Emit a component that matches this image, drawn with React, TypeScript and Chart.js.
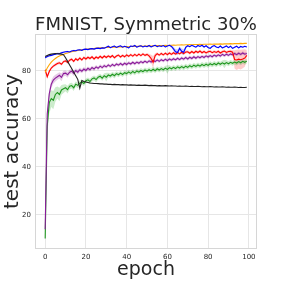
import { useEffect, useRef } from "react";
import { Chart, registerables } from "chart.js";
Chart.register(...registerables);

const epochs = Array.from({ length: 100 }, (_, i) => i);

const blueAcc = [
  85.5, 86.0, 86.3, 86.5, 86.8, 87.0, 87.3, 87.2, 87.6, 87.8,
  88.0, 88.1, 87.9, 88.3, 88.5, 88.4, 88.7, 88.8, 88.6, 89.0,
  89.1, 88.9, 89.2, 89.3, 89.1, 89.4, 89.5, 89.3, 89.6, 89.5,
  89.9, 90.3, 89.7, 90.1, 90.4, 89.8, 90.2, 90.5, 89.9, 90.3,
  90.0, 89.6, 90.4, 90.2, 90.6, 89.9, 90.3, 90.5, 90.0, 90.4,
  90.1, 90.6, 90.0, 90.4, 90.7, 90.1, 90.5, 90.2, 90.6, 90.0,
  90.4, 90.7, 90.2, 89.2, 88.0, 87.7, 89.4, 88.2, 87.8, 89.8,
  90.5, 90.1, 90.7, 90.3, 89.9, 90.6, 90.2, 90.7, 90.0, 90.5,
  89.8, 89.4, 90.2, 90.6, 90.0, 89.7, 90.4, 89.6, 90.0, 90.4,
  89.7, 90.3, 89.4, 89.9, 90.3, 89.6, 90.2, 89.9, 90.3, 90.0,
];
const blueStd = [
  0.4, 0.4, 0.4, 0.4, 0.4, 0.4, 0.4, 0.4, 0.4, 0.4,
  0.3, 0.3, 0.3, 0.3, 0.3, 0.3, 0.3, 0.3, 0.3, 0.3,
  0.3, 0.3, 0.3, 0.3, 0.3, 0.3, 0.3, 0.3, 0.3, 0.3,
  0.3, 0.3, 0.3, 0.3, 0.3, 0.3, 0.3, 0.3, 0.3, 0.3,
  0.3, 0.3, 0.3, 0.3, 0.3, 0.3, 0.3, 0.3, 0.3, 0.3,
  0.3, 0.3, 0.3, 0.3, 0.3, 0.3, 0.3, 0.3, 0.3, 0.3,
  0.3, 0.3, 0.5, 0.9, 1.2, 1.2, 0.8, 1.2, 1.2, 0.6,
  0.3, 0.3, 0.3, 0.3, 0.3, 0.3, 0.3, 0.3, 0.3, 0.3,
  0.3, 0.4, 0.3, 0.3, 0.3, 0.3, 0.3, 0.4, 0.3, 0.3,
  0.3, 0.3, 0.4, 0.3, 0.3, 0.3, 0.3, 0.3, 0.3, 0.3,
];
const orangeAcc = [
  79.5, 81.2, 82.6, 83.7, 84.5, 85.2, 85.8, 86.2, 86.6, 86.9,
  87.3, 87.5, 87.8, 88.0, 88.2, 88.3, 88.5, 88.7, 88.8, 88.9,
  89.0, 89.1, 89.2, 89.3, 89.3, 89.5, 89.5, 89.6, 89.7, 89.7,
  89.8, 89.8, 89.9, 89.9, 90.0, 89.9, 90.0, 90.1, 90.0, 90.1,
  90.2, 90.1, 90.2, 90.3, 90.2, 90.3, 90.3, 90.4, 90.3, 90.4,
  90.4, 90.5, 90.4, 90.5, 90.5, 90.6, 90.5, 90.6, 90.6, 90.7,
  90.6, 90.7, 90.7, 90.8, 90.7, 90.8, 90.8, 90.9, 90.8, 90.9,
  90.9, 91.0, 90.9, 91.0, 91.0, 91.0, 91.1, 91.0, 91.1, 91.1,
  91.1, 91.2, 91.1, 91.2, 91.2, 91.2, 91.3, 91.2, 91.3, 91.3,
  91.3, 91.4, 91.3, 91.4, 91.4, 91.4, 91.5, 91.4, 91.5, 91.5,
];
const redAcc = [
  80.5, 77.6, 79.8, 81.2, 82.0, 82.6, 83.1, 83.4, 82.8, 83.9,
  84.2, 83.5, 84.5, 84.9, 84.0, 85.1, 84.5, 85.4, 84.6, 85.6,
  85.0, 85.7, 85.2, 85.9, 85.0, 85.8, 85.3, 86.1, 85.4, 86.2,
  85.6, 86.3, 85.7, 86.4, 85.5, 86.2, 86.6, 85.8, 86.5, 85.9,
  86.7, 86.1, 86.8, 86.2, 86.9, 86.3, 87.0, 86.4, 87.1, 86.5,
  86.9, 86.3, 85.2, 83.6, 86.4, 87.2, 86.6, 87.3, 86.7, 87.4,
  86.8, 87.5, 86.9, 87.6, 87.0, 87.7, 87.1, 87.8, 87.2, 87.9,
  88.0, 87.4, 88.1, 87.5, 88.2, 87.7, 88.3, 87.6, 88.1, 87.5,
  88.0, 88.2, 87.6, 88.1, 87.7, 88.2, 87.5, 88.0, 88.3, 87.7,
  88.1, 88.2, 87.8, 84.8, 84.6, 84.9, 84.7, 85.0, 85.4, 86.5,
];
const redStd = [
  0.6, 0.8, 0.7, 0.6, 0.6, 0.6, 0.6, 0.6, 0.6, 0.6,
  0.6, 0.6, 0.6, 0.6, 0.6, 0.6, 0.6, 0.6, 0.6, 0.6,
  0.6, 0.6, 0.6, 0.6, 0.6, 0.6, 0.6, 0.6, 0.6, 0.6,
  0.6, 0.6, 0.6, 0.6, 0.6, 0.6, 0.6, 0.6, 0.6, 0.6,
  0.6, 0.6, 0.6, 0.6, 0.6, 0.6, 0.6, 0.6, 0.6, 0.6,
  0.6, 0.8, 1.6, 2.6, 1.0, 0.6, 0.6, 0.6, 0.6, 0.6,
  0.6, 0.6, 0.6, 0.6, 0.6, 0.6, 0.6, 0.6, 0.6, 0.6,
  0.6, 0.6, 0.6, 0.6, 0.6, 0.6, 0.6, 0.6, 0.6, 0.6,
  0.6, 0.6, 0.6, 0.6, 0.6, 0.6, 0.6, 0.6, 0.6, 0.6,
  0.6, 0.6, 0.8, 3.8, 4.2, 4.0, 4.1, 3.9, 3.6, 2.2,
];
const purpleAcc = [
  14.0, 62.0, 70.5, 74.5, 76.2, 77.0, 77.6, 78.2, 77.3, 78.9,
  79.1, 78.4, 79.5, 79.9, 79.0, 80.2, 79.5, 80.5, 79.9, 80.8,
  80.2, 81.1, 80.5, 81.4, 80.8, 81.7, 81.1, 82.0, 81.4, 82.2,
  81.7, 82.5, 81.9, 82.7, 82.1, 82.9, 82.4, 83.1, 82.5, 83.2,
  82.7, 83.4, 82.9, 83.6, 83.0, 83.7, 83.2, 83.9, 83.4, 84.1,
  83.5, 84.2, 83.7, 84.4, 83.9, 84.6, 84.0, 84.7, 84.2, 84.9,
  84.3, 85.0, 84.5, 85.1, 84.6, 85.3, 84.7, 85.4, 84.9, 85.6,
  85.0, 85.7, 85.2, 85.9, 85.3, 86.0, 85.5, 86.1, 85.6, 86.3,
  85.8, 86.4, 85.9, 86.6, 86.1, 86.7, 86.2, 86.9, 86.4, 87.0,
  86.5, 87.1, 86.7, 87.3, 86.8, 87.4, 86.9, 87.5, 87.0, 87.3,
];
const purpleStd = [
  1.0, 2.0, 1.8, 1.6, 1.5, 1.4, 1.3, 1.3, 1.6, 1.2,
  1.1, 1.2, 1.0, 1.0, 1.1, 0.9, 1.0, 0.9, 0.9, 0.8,
  0.8, 0.8, 0.8, 0.8, 0.8, 0.8, 0.8, 0.8, 0.8, 0.8,
  0.7, 0.7, 0.7, 0.7, 0.7, 0.7, 0.7, 0.7, 0.7, 0.7,
  0.7, 0.7, 0.7, 0.7, 0.7, 0.7, 0.7, 0.7, 0.7, 0.7,
  0.7, 0.7, 0.7, 0.7, 0.7, 0.7, 0.7, 0.7, 0.7, 0.7,
  0.7, 0.7, 0.7, 0.7, 0.7, 0.7, 0.7, 0.7, 0.7, 0.7,
  0.7, 0.7, 0.7, 0.7, 0.7, 0.7, 0.7, 0.7, 0.7, 0.7,
  0.7, 0.7, 0.7, 0.7, 0.7, 0.7, 0.7, 0.7, 0.7, 0.7,
  0.7, 0.7, 0.7, 0.7, 0.7, 0.7, 0.7, 0.7, 0.7, 0.7,
];
const greenAcc = [
  10.2, 57.0, 66.8, 68.5, 67.8, 70.2, 71.0, 70.2, 72.1, 72.6,
  73.0, 72.2, 73.6, 73.9, 73.0, 74.5, 74.0, 74.9, 75.4, 74.8,
  75.9, 76.3, 75.6, 76.7, 77.1, 76.4, 77.4, 77.8, 77.0, 78.0,
  77.4, 78.3, 77.9, 78.6, 78.0, 78.9, 78.4, 79.1, 78.5, 79.3,
  78.9, 79.6, 79.0, 79.8, 79.2, 80.0, 79.5, 80.2, 79.7, 80.4,
  79.9, 80.5, 80.0, 80.7, 80.1, 80.9, 80.4, 81.0, 80.5, 81.2,
  80.6, 81.4, 80.9, 81.5, 81.0, 81.7, 81.2, 81.8, 81.3, 82.0,
  81.5, 82.2, 81.7, 82.4, 81.9, 82.5, 82.0, 82.7, 82.2, 82.8,
  82.3, 83.0, 82.5, 83.1, 82.6, 83.3, 82.8, 83.4, 82.9, 83.5,
  83.0, 83.6, 83.2, 83.7, 83.3, 83.9, 83.4, 84.0, 83.6, 84.1,
];
const greenStd = [
  0.5, 4.0, 4.5, 3.5, 3.8, 3.0, 2.5, 2.8, 2.0, 1.8,
  1.5, 1.6, 1.3, 1.2, 1.4, 1.1, 1.2, 1.0, 1.0, 1.1,
  1.0, 1.0, 1.1, 1.0, 1.0, 1.2, 1.0, 1.0, 1.1, 1.0,
  1.8, 1.0, 1.0, 1.0, 1.1, 1.0, 1.0, 1.0, 1.0, 1.0,
  1.0, 1.0, 1.0, 1.0, 1.0, 1.0, 1.0, 1.0, 1.0, 1.0,
  1.0, 1.0, 1.0, 1.0, 1.0, 1.0, 1.0, 1.0, 1.0, 1.0,
  1.8, 1.0, 1.0, 1.0, 1.0, 1.0, 1.0, 1.0, 1.0, 1.0,
  1.0, 1.0, 1.0, 1.0, 1.0, 1.0, 1.0, 1.0, 1.0, 1.0,
  1.0, 1.0, 1.0, 1.0, 1.0, 1.0, 1.0, 1.0, 1.8, 1.0,
  1.0, 1.0, 1.0, 1.0, 1.0, 1.0, 1.0, 1.0, 1.0, 1.0,
];
const blackAcc = [
  86.0, 86.4, 86.8, 87.0, 87.2, 87.3, 87.2, 87.1, 87.0, 86.8,
  85.5, 84.0, 82.5, 81.0, 79.5, 78.0, 76.5, 72.8, 76.0, 75.6,
  75.4, 75.2, 75.0, 74.9, 74.8, 74.8, 74.7, 74.6, 74.6, 74.5,
  74.5, 74.4, 74.4, 74.3, 74.4, 74.3, 74.3, 74.2, 74.3, 74.2,
  74.2, 74.1, 74.2, 74.1, 74.1, 74.0, 74.1, 74.0, 74.0, 74.1,
  74.0, 73.9, 74.0, 73.9, 73.9, 73.8, 73.9, 73.8, 73.8, 73.9,
  73.8, 73.7, 73.8, 73.7, 73.7, 73.6, 73.7, 73.6, 73.6, 73.7,
  73.6, 73.5, 73.6, 73.5, 73.5, 73.6, 73.5, 73.4, 73.5, 73.4,
  73.4, 73.5, 73.4, 73.3, 73.4, 73.3, 73.3, 73.4, 73.3, 73.2,
  73.3, 73.2, 73.2, 73.3, 73.2, 73.1, 73.2, 73.1, 73.1, 73.2,
];

const xTicks = [0, 20, 40, 60, 80, 100];
const yTicks = [20, 40, 60, 80];

const FONT = "DejaVu Sans";
const TEXT = "#262626";
const GRID = "#e6e6e6";

export default function App() {
  const ref = useRef<HTMLCanvasElement>(null);
  useEffect(() => {
    document.body.style.margin = "0";
    const pts = (arr: number[]) => arr.map((v, i) => ({ x: epochs[i], y: v }));
    const band = (mean: number[], std: number[], color: string) => [
      {
        data: pts(mean.map((m, i) => m - std[i])),
        borderWidth: 0,
        borderColor: "rgba(0,0,0,0)",
        pointRadius: 0,
        fill: false,
        order: 10,
      },
      {
        data: pts(mean.map((m, i) => m + std[i])),
        borderWidth: 0,
        borderColor: "rgba(0,0,0,0)",
        backgroundColor: color,
        pointRadius: 0,
        fill: "-1",
        order: 10,
      },
    ];
    const line = (arr: number[], color: string, order: number) => ({
      data: pts(arr),
      borderColor: color,
      borderWidth: 1.1,
      pointRadius: 0,
      fill: false,
      order,
    });
    const frame = {
      id: "frame",
      beforeDatasetsDraw(chart: any) {
        const { ctx, chartArea: a } = chart;
        ctx.save();
        ctx.strokeStyle = "#d6d6d6";
        ctx.lineWidth = 1;
        ctx.strokeRect(a.left + 0.5, a.top + 0.5, a.right - a.left - 1, a.bottom - a.top - 1);
        ctx.restore();
      },
    };
    const chart = new Chart(ref.current!, {
      type: "line",
      data: {
        datasets: [
          ...band(greenAcc, greenStd, "rgba(0,160,0,0.2)"),
          ...band(purpleAcc, purpleStd, "rgba(128,0,128,0.2)"),
          ...band(redAcc, redStd, "rgba(255,0,0,0.2)"),
          ...band(blueAcc, blueStd, "rgba(0,0,255,0.2)"),
          line(greenAcc, "#1e961e", 6),
          line(purpleAcc, "#8a1a9a", 5),
          line(redAcc, "#ff0000", 4),
          line(orangeAcc, "#ffa500", 3),
          line(blueAcc, "#0000ff", 2),
          line(blackAcc, "#222222", 1),
        ] as any,
      },
      plugins: [frame],
      options: {
        animation: false,
        responsive: false,
        events: [],
        layout: { padding: { left: 0, right: 29, top: 0, bottom: 0 } },
        elements: { line: { tension: 0 } },
        plugins: {
          legend: { display: false },
          tooltip: { enabled: false },
          title: {
            display: true,
            fullSize: false,
            text: "FMNIST, Symmetric 30%",
            color: TEXT,
            font: { family: FONT, size: 18, weight: "normal", lineHeight: 1 },
            padding: { top: 16, bottom: 0 },
          },
        },
        scales: {
          x: {
            type: "linear",
            min: -5,
            max: 104,
            afterBuildTicks: (s: any) => {
              s.ticks = xTicks.map((v) => ({ value: v }));
            },
            afterFit: (s: any) => {
              s.height = 37;
            },
            ticks: {
              color: TEXT,
              font: { family: FONT, size: 7 },
              padding: 4,
              maxRotation: 0,
            },
            grid: { color: GRID, drawTicks: false },
            border: { display: false },
            title: {
              display: true,
              text: "epoch",
              color: TEXT,
              font: { family: FONT, size: 19 },
              padding: { top: 0, bottom: 5 },
            },
          },
          y: {
            type: "linear",
            min: 5.8,
            max: 95.4,
            afterBuildTicks: (s: any) => {
              s.ticks = yTicks.map((v) => ({ value: v }));
            },
            afterFit: (s: any) => {
              s.width = 35;
            },
            ticks: {
              color: TEXT,
              font: { family: FONT, size: 7 },
              padding: 4,
            },
            grid: { color: GRID, drawTicks: false },
            border: { display: false },
            title: {
              display: true,
              text: "test accuracy",
              color: TEXT,
              font: { family: FONT, size: 20 },
              padding: { top: 1, bottom: 0 },
            },
          },
        },
      } as any,
    });
    return () => chart.destroy();
  }, []);
  return (
    <div style={{ position: "absolute", left: 0, top: 0, width: 286, height: 286, background: "#fff" }}>
      <canvas ref={ref} width={286} height={286} />
    </div>
  );
}
